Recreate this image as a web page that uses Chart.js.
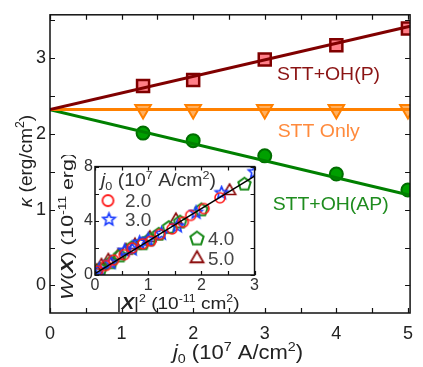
<!DOCTYPE html>
<html>
<head>
<meta charset="utf-8">
<script src="https://cdn.jsdelivr.net/npm/chart.js@4"></script>
<style>
  html, body { margin: 0; padding: 0; background: #fff; }
  #wrap { position: relative; width: 423px; height: 367px; }
  #main { position: absolute; left: 0; top: 0; }
  #inset { position: absolute; left: 55px; top: 155px; }
</style>
</head>
<body>
<div id="wrap">
  <canvas id="main" width="423" height="367"></canvas>
  <canvas id="inset" width="205" height="160"></canvas>
</div>
<script>
const FONT = '"Liberation Sans", Arial, sans-serif';

// Hauptplot: kappa über j0
const jVals = [1.3, 2, 3, 4, 5];
const kappaP = [2.63, 2.71, 2.98, 3.17, 3.39];
const kappaOnly = [2.32, 2.32, 2.32, 2.32, 2.32];
const kappaAP = [2.01, 1.91, 1.71, 1.47, 1.26];
const fitJ = [0, 5.03];
const fitP = [2.32, 3.42];
const fitOnly = [2.32, 2.32];
const fitAP = [2.32, 1.19];
const xTickLabels = [0, 1, 2, 3, 4, 5];
const yTickLabels = [0, 1, 2, 3];

// Inset: W(X) über |X|^2
const x20 = [0.05, 0.2, 0.35, 0.55, 0.7, 0.9, 1.05, 1.22, 1.45, 1.66, 1.8, 2.05, 2.35];
const w20 = [0.3, 0.7, 1.1, 1.5, 2.0, 2.3, 2.5, 3.0, 3.4, 3.9, 4.4, 4.9, 5.7];
const x30 = [0.08, 0.3, 0.56, 0.7, 0.84, 1.0, 1.25, 1.55, 1.9, 2.38, 3.0];
const w30 = [0.4, 0.9, 1.8, 1.9, 2.4, 2.6, 3.05, 3.6, 4.6, 6.05, 7.6];
const x40 = [0.1, 0.3, 0.47, 0.69, 0.9, 1.03, 1.2, 1.39, 1.6, 2.0, 2.81];
const w40 = [0.4, 0.9, 1.4, 2.0, 2.3, 2.6, 3.0, 3.5, 3.9, 4.8, 6.7];
const x50 = [0.03, 0.12, 0.25, 0.44, 0.58, 0.75, 1.03, 1.52, 2.53];
const w50 = [0.3, 0.7, 1.07, 1.43, 1.8, 2.2, 2.74, 4.05, 6.2];
const fitX = [0, 3];
const fitW = [0.1, 7.3];
const insetXTicks = [0, 1, 2, 3];
const insetYTicks = [0, 4, 8];

const pts = (xs, ys) => xs.map((x, i) => ({ x, y: ys[i] }));

function drawRich(ctx, parts, x, y, size, color, opts = {}) {
  ctx.save();
  ctx.translate(x, y);
  if (opts.angle) ctx.rotate(opts.angle);
  if (opts.stretch) ctx.scale(opts.stretch, 1);
  let total = 0;
  const items = parts.map(p => {
    const small = p.sup || p.sub;
    const s = small ? size * 0.65 : size;
    const font = (p.i ? 'italic ' : '') + (p.b ? 'bold ' : '') + s + 'px ' + FONT;
    ctx.font = font;
    const w = ctx.measureText(p.t).width;
    total += w;
    return { t: p.t, font, w, dy: p.sup ? -size * 0.4 : p.sub ? size * 0.2 : 0 };
  });
  let cx = opts.align === 'left' ? 0 : -total / 2;
  ctx.fillStyle = color;
  ctx.textAlign = 'left';
  ctx.textBaseline = 'alphabetic';
  items.forEach(it => {
    ctx.font = it.font;
    ctx.fillText(it.t, cx, size * 0.36 + it.dy);
    cx += it.w;
  });
  ctx.restore();
}

function drawFrame(chart, xStep, yStep, len) {
  const { ctx, chartArea: a, scales } = chart;
  ctx.save();
  ctx.strokeStyle = '#111';
  ctx.lineWidth = 1.5;
  ctx.strokeRect(a.left, a.top, a.right - a.left, a.bottom - a.top);
  ctx.beginPath();
  for (let v = Math.ceil(scales.x.min / xStep) * xStep; v <= scales.x.max + 1e-9; v += xStep) {
    const px = Math.round(scales.x.getPixelForValue(v)) + 0.5;
    ctx.moveTo(px, a.bottom); ctx.lineTo(px, a.bottom - len);
    ctx.moveTo(px, a.top); ctx.lineTo(px, a.top + len);
  }
  for (let v = Math.ceil(scales.y.min / yStep) * yStep; v <= scales.y.max + 1e-9; v += yStep) {
    const py = Math.round(scales.y.getPixelForValue(v)) + 0.5;
    ctx.moveTo(a.left, py); ctx.lineTo(a.left + len, py);
    ctx.moveTo(a.right, py); ctx.lineTo(a.right - len, py);
  }
  ctx.lineWidth = 1.2;
  ctx.stroke();
  ctx.restore();
}

const mainDecor = {
  id: 'mainDecor',
  afterDraw(chart) {
    const { ctx, scales } = chart;
    drawFrame(chart, 0.5, 0.5, 5);
    const X = v => scales.x.getPixelForValue(v);
    const Y = v => scales.y.getPixelForValue(v);
    drawRich(ctx, [{ t: 'STT+OH(P)' }], X(3.17), Y(2.79), 18, '#8b1414', { align: 'left', stretch: 1.08 });
    drawRich(ctx, [{ t: 'STT Only' }], X(3.18), Y(2.04), 18, '#ff8a3c', { align: 'left', stretch: 1.08 });
    drawRich(ctx, [{ t: 'STT+OH(AP)' }], X(3.11), Y(1.08), 18, '#1e8c1e', { align: 'left', stretch: 1.08 });
    drawRich(ctx, [{ t: 'κ', i: true }, { t: ' (erg/cm' }, { t: '2', sup: true }, { t: ')' }],
      25, 161, 19, '#222', { angle: -Math.PI / 2 });
    drawRich(ctx, [{ t: 'j', i: true }, { t: '0', sub: true }, { t: ' (10' }, { t: '7', sup: true },
      { t: ' A/cm' }, { t: '2', sup: true }, { t: ')' }], 238, 352, 20, '#222', { stretch: 1.1 });
  }
};

new Chart(document.getElementById('main'), {
  type: 'line',
  data: {
    datasets: [
      { data: pts(fitJ, fitP), borderColor: '#800000', borderWidth: 3, pointRadius: 0 },
      { data: pts(fitJ, fitOnly), borderColor: '#ff8000', borderWidth: 3, pointRadius: 0 },
      { data: pts(fitJ, fitAP), borderColor: '#008000', borderWidth: 3, pointRadius: 0 },
      { data: pts(jVals, kappaP), showLine: false, pointStyle: 'rect', pointRadius: 8.5,
        pointBackgroundColor: '#ff7f88', pointBorderColor: '#800000', pointBorderWidth: 2.5 },
      { data: pts(jVals, kappaOnly), showLine: false, pointStyle: 'triangle', pointRotation: 180, pointRadius: 9,
        pointBackgroundColor: '#ffb060', pointBorderColor: '#ff8000', pointBorderWidth: 2 },
      { data: pts(jVals, kappaAP), showLine: false, pointStyle: 'circle', pointRadius: 6.5,
        pointBackgroundColor: '#00a000', pointBorderColor: '#006e00', pointBorderWidth: 2 }
    ]
  },
  options: {
    responsive: false,
    animation: false,
    devicePixelRatio: 1,
    layout: { padding: { top: 10, right: 5, left: 0, bottom: 0 } },
    plugins: { legend: { display: false }, tooltip: { enabled: false } },
    scales: {
      x: {
        type: 'linear', min: 0, max: 5.03,
        afterBuildTicks: s => { s.ticks = xTickLabels.map(v => ({ value: v })); },
        afterFit: s => { s.height = 54; },
        grid: { display: false, drawTicks: false }, border: { display: false },
        ticks: { padding: 10, color: '#222', font: { size: 18, family: FONT }, maxRotation: 0, autoSkip: false }
      },
      y: {
        min: -0.364, max: 3.571,
        afterBuildTicks: s => { s.ticks = yTickLabels.map(v => ({ value: v })); },
        afterFit: s => { s.width = 50; },
        grid: { display: false, drawTicks: false }, border: { display: false },
        ticks: { padding: 4, color: '#222', font: { size: 18, family: FONT } }
      }
    }
  },
  plugins: [mainDecor]
});

// Marker für das Inset (Stern und Fünfeck gibt es in Chart.js nicht)
function makeMarker(sides, inner, r, color, lw) {
  const c = document.createElement('canvas');
  const s = Math.ceil(2 * r + lw + 2);
  c.width = c.height = s;
  const g = c.getContext('2d');
  g.translate(s / 2, s / 2);
  g.beginPath();
  if (sides === 0) {
    g.arc(0, 0, r, 0, Math.PI * 2);
  } else {
    const n = inner ? sides * 2 : sides;
    for (let k = 0; k < n; k++) {
      const a = -Math.PI / 2 + k * Math.PI * 2 / n;
      const rr = inner && k % 2 ? r * inner : r;
      g.lineTo(rr * Math.cos(a), rr * Math.sin(a));
    }
    g.closePath();
  }
  g.strokeStyle = color;
  g.lineWidth = lw;
  g.stroke();
  return c;
}

const C20 = '#ff1a1a', C30 = '#1a3cff', C40 = '#1a8a1a', C50 = '#8b0a0a';
const mk20 = makeMarker(0, 0, 5, C20, 1.6);
const mk30 = makeMarker(5, 0.45, 6.5, C30, 1.6);
const mk40 = makeMarker(5, 0, 6.5, C40, 2);
const mk50 = makeMarker(3, 0, 7, C50, 1.6);
const lg20 = makeMarker(0, 0, 5.5, C20, 1.8);
const lg30 = makeMarker(5, 0.45, 6.5, C30, 1.6);
const lg40 = makeMarker(5, 0, 7, C40, 2);
const lg50 = makeMarker(3, 0, 7.5, C50, 1.8);

const insetDecor = {
  id: 'insetDecor',
  beforeDraw(chart) {
    const { ctx, chartArea: a } = chart;
    ctx.save();
    ctx.fillStyle = '#fff';
    ctx.fillRect(a.left, a.top, a.right - a.left, a.bottom - a.top);
    ctx.restore();
  },
  afterDraw(chart) {
    const { ctx, chartArea: a } = chart;
    drawFrame(chart, 0.5, 2, 4);
    drawRich(ctx, [{ t: 'j', i: true }, { t: '0', sub: true }, { t: ' (10' }, { t: '7', sup: true },
      { t: ' A/cm' }, { t: '2', sup: true }, { t: ')' }], a.left + 6, a.top + 13, 18, '#333', { align: 'left', stretch: 1.08 });
    // [Marker, Text, Marker-x, y, Text-x] relativ zur Inset-Fläche
    const entries = [
      [lg20, '2.0', 13, 34, 30], [lg30, '3.0', 14, 53, 30], [lg40, '4.0', 102, 72, 113], [lg50, '5.0', 102, 92, 113]
    ];
    entries.forEach(([m, label, dx, dy, tx]) => {
      ctx.drawImage(m, a.left + dx - m.width / 2, a.top + dy - m.height / 2);
      drawRich(ctx, [{ t: label }], a.left + tx, a.top + dy, 18, '#444', { align: 'left', stretch: 1.05 });
    });
    drawRich(ctx, [{ t: 'W', i: true }, { t: '(' }, { t: 'X', b: true, i: true }, { t: ') (10' },
      { t: '-11', sup: true }, { t: ' erg)' }], 12, 71, 17, '#222', { angle: -Math.PI / 2, stretch: 1.25 });
    drawRich(ctx, [{ t: '|' }, { t: 'X', b: true, i: true }, { t: '|' }, { t: '2', sup: true }, { t: ' (10' },
      { t: '-11', sup: true }, { t: ' cm' }, { t: '2', sup: true }, { t: ')' }], 123, 148, 17, '#222', { stretch: 1.12 });
  }
};

new Chart(document.getElementById('inset'), {
  type: 'line',
  data: {
    datasets: [
      { data: pts(fitX, fitW), borderColor: '#000', borderWidth: 1.5, pointRadius: 0 },
      { data: pts(x20, w20), showLine: false, pointStyle: mk20 },
      { data: pts(x30, w30), showLine: false, pointStyle: mk30 },
      { data: pts(x40, w40), showLine: false, pointStyle: mk40 },
      { data: pts(x50, w50), showLine: false, pointStyle: mk50 }
    ]
  },
  options: {
    responsive: false,
    animation: false,
    devicePixelRatio: 1,
    layout: { padding: { top: 8, right: 5, left: 0, bottom: 0 } },
    plugins: { legend: { display: false }, tooltip: { enabled: false } },
    scales: {
      x: {
        type: 'linear', min: 0, max: 3,
        afterBuildTicks: s => { s.ticks = insetXTicks.map(v => ({ value: v })); },
        afterFit: s => { s.height = 40; },
        grid: { display: false, drawTicks: false }, border: { display: false },
        ticks: { padding: 1, color: '#333', font: { size: 16, family: FONT }, maxRotation: 0, autoSkip: false }
      },
      y: {
        min: 0, max: 8,
        afterBuildTicks: s => { s.ticks = insetYTicks.map(v => ({ value: v })); },
        afterFit: s => { s.width = 40; },
        grid: { display: false, drawTicks: false }, border: { display: false },
        ticks: { padding: 2, color: '#333', font: { size: 16, family: FONT } }
      }
    }
  },
  plugins: [insetDecor]
});
</script>
</body>
</html>
